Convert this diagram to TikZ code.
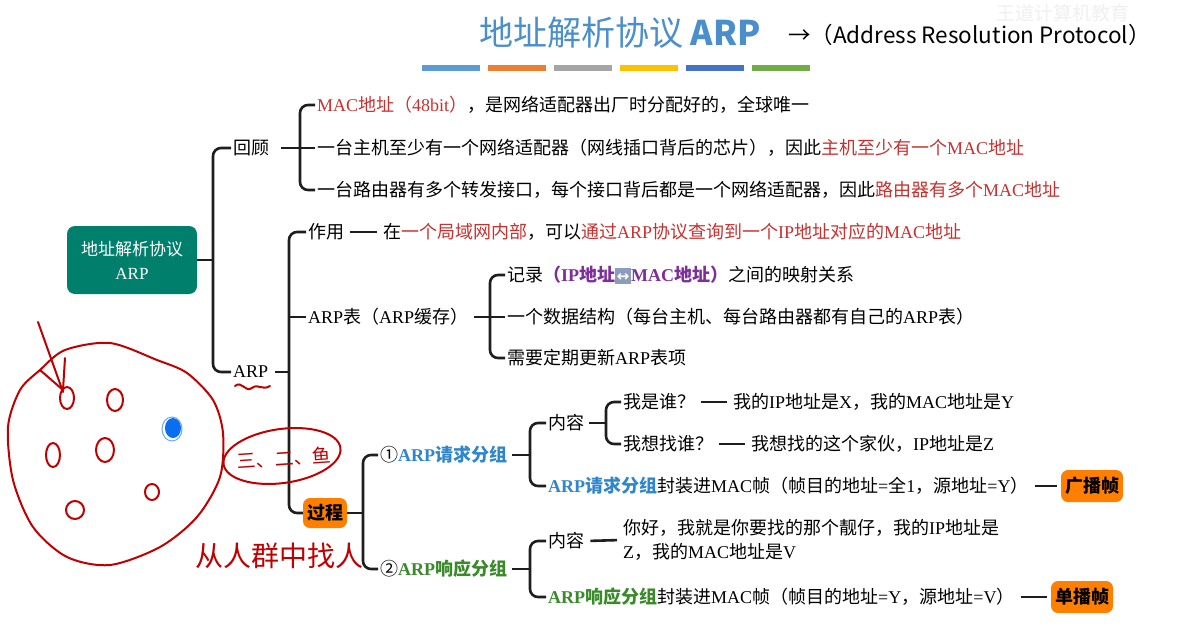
\documentclass[tikz,border=0pt]{standalone}
\usepackage{fontspec}
\setmainfont{Liberation Serif}
\newfontfamily\cjkfont{Noto Sans CJK SC}
\newfontfamily\symfont{DejaVu Sans}
\newcommand\latinfam{\rmfamily}
% Latin letters in serif, CJK in sans:
\XeTeXinterchartokenstate=1
\newXeTeXintercharclass\cjkclass
\newcount\cjkidx
\newcommand\cjkrange[2]{\cjkidx=#1\relax
  \loop\XeTeXcharclass\cjkidx=\cjkclass\relax
  \ifnum\cjkidx<#2\relax\advance\cjkidx by 1\relax\repeat}
\cjkrange{"4E00}{"9FFF}
\cjkrange{"3000}{"303F}
\cjkrange{"FF00}{"FFEF}
\cjkrange{"2460}{"24FF}
\XeTeXinterchartoks 0 \cjkclass = {\cjkfont}
\XeTeXinterchartoks 4095 \cjkclass = {\cjkfont}
\XeTeXinterchartoks \cjkclass 0 = {\latinfam}
\XeTeXinterchartoks 4095 0 = {\latinfam}

\definecolor{titleblue}{HTML}{4A8FCB}
\definecolor{mred}{HTML}{C8312F}
\definecolor{reqblue}{HTML}{2F86CC}
\definecolor{rspgreen}{HTML}{3A8A2A}
\definecolor{mpurple}{HTML}{7E2E9B}
\definecolor{rootteal}{HTML}{007F6D}
\definecolor{boxorange}{HTML}{FF8000}
\definecolor{handred}{HTML}{C00000}
\definecolor{handblue}{HTML}{0A6EF0}
\definecolor{iconblue}{HTML}{8C9DBB}
\definecolor{lineblack}{HTML}{1E1E1E}
\definecolor{barA}{HTML}{5B9BD5}
\definecolor{barB}{HTML}{ED7D31}
\definecolor{barC}{HTML}{A5A5A5}
\definecolor{barD}{HTML}{FFC000}
\definecolor{barE}{HTML}{4472C4}
\definecolor{barF}{HTML}{70AD47}

\newcommand\swapicon{{\XeTeXinterchartokenstate=0 \setlength\fboxsep{0.5pt}%
  \colorbox{iconblue}{\rule[-2pt]{0pt}{15pt}\makebox[15pt]{\color{white}\symfont\bfseries\fontsize{15}{15}\selectfont\char"2194}}}}

\begin{document}
\begin{tikzpicture}[x=1pt,y=-1pt,
  every node/.style={inner sep=2pt, font=\cjkfont\fontsize{18}{22}\selectfont},
  txt/.style={anchor=west},
  br/.style={draw=lineblack, line width=2.6pt, rounded corners=8pt},
  lk/.style={draw=lineblack, line width=2.6pt, shorten <=4pt, shorten >=4pt},
  orangebox/.style={fill=boxorange, rounded corners=7pt, inner xsep=4pt, minimum height=32pt,
    font=\cjkfont\bfseries\fontsize{18}{22}\selectfont},
  hand/.style={draw=handred, line width=2pt, line cap=round, line join=round}]
\fill[white] (0,0) rectangle (1183,640);
\useasboundingbox (0,0) rectangle (1183,640);
 % title:
\node[text=titleblue, font=\cjkfont\let\latinfam\cjkfont\fontsize{34}{36}\selectfont] (title) at (620,33) {地址解析协议 \textbf{ARP}};
\node[txt, font=\cjkfont\let\latinfam\cjkfont\fontsize{22.5}{24}\selectfont] (full) at (786,35) {→（Address Resolution Protocol）};
\node[text=black!6, font=\cjkfont\fontsize{19}{20}\selectfont] (mark) at (1063,13) {王道计算机教育};
\foreach \c [count=\i] in {barA,barB,barC,barD,barE,barF}
  \fill[\c] ({422+66*(\i-1)},65) rectangle ++(58,6);
 % root:
\node[fill=rootteal, rounded corners=8pt, text=white, minimum width=130pt, minimum height=68pt,
  align=center, font=\cjkfont\fontsize{17}{24}\selectfont] (root) at (132,260) {地址解析协议\\ARP};
 % review:
\node[txt] (hg) at (231,148) {回顾};
\node[txt] (hg1) at (315,105) {\textcolor{mred}{MAC地址（48bit）}，是网络适配器出厂时分配好的，全球唯一};
\node[txt] (hg2) at (315,148) {一台主机至少有一个网络适配器（网线插口背后的芯片），因此\textcolor{mred}{主机至少有一个MAC地址}};
\node[txt] (hg3) at (315,190) {一台路由器有多个转发接口，每个接口背后都是一个网络适配器，因此\textcolor{mred}{路由器有多个MAC地址}};
 % ARP:
\node[txt] (arp) at (231,372) {ARP};
\node[txt] (zy) at (306,232) {作用};
\node[txt] (zyt) at (381,232) {在\textcolor{mred}{一个局域网内部}，可以\textcolor{mred}{通过ARP协议查询到一个IP地址对应的MAC地址}};
\node[txt] (tab) at (306,317) {ARP表（ARP缓存）};
\node[txt] (tab1) at (505,275) {记录\textcolor{mpurple}{\textbf{（IP地址\swapicon MAC地址）}}之间的映射关系};
\node[txt] (tab2) at (505,317) {一个数据结构（每台主机、每台路由器都有自己的ARP表）};
\node[txt] (tab3) at (505,358) {需要定期更新ARP表项};
\node[orangebox, minimum height=30pt] (gc) at (325,513) {过程};
 % request:
\node[txt] (req) at (378,455) {①\textcolor{reqblue}{\textbf{ARP请求分组}}};
\node[txt] (reqc) at (546,423) {内容};
\node[txt] (who) at (621,402) {我是谁？};
\node[txt] (whot) at (731,402) {我的IP地址是X，我的MAC地址是Y};
\node[txt] (find) at (621,444) {我想找谁？};
\node[txt] (findt) at (749,444) {我想找的这个家伙，IP地址是Z};
\node[txt] (reqf) at (546,486) {\textcolor{reqblue}{\textbf{ARP请求分组}}封装进MAC帧（帧目的地址=全1，源地址=Y）};
\node[orangebox] (bc) at (1092,486) {广播帧};
 % response:
\node[txt] (rsp) at (378,569) {②\textcolor{rspgreen}{\textbf{ARP响应分组}}};
\node[txt] (rspc) at (546,541) {内容};
\node[txt, align=left, font=\cjkfont\fontsize{18}{24}\selectfont] (hi) at (621,540) {你好，我就是你要找的那个靓仔，我的IP地址是\\Z，我的MAC地址是V};
\node[txt] (rspf) at (546,597) {\textcolor{rspgreen}{\textbf{ARP响应分组}}封装进MAC帧（帧目的地址=Y，源地址=V）};
\node[orangebox] (uc) at (1082,597) {单播帧};
 % brackets:
\draw[br] (root.east) -- (213,260) coordinate (j0);
\draw[br] (hg.west) -| (j0) |- (arp.west);
\draw[br] ([xshift=10pt]hg.east) -- (300,148) coordinate (j1);
\draw[br] (hg1.west) -| (j1) |- (hg3.west);
\draw[br] (j1) -- (hg2.west);
\draw[br] ([xshift=5pt]arp.east) -- (289,372) coordinate (j2);
\draw[br] (zy.west) -| (j2) |- (gc.west);
\draw[br] (j2 |- tab.west) -- (tab.west);
\draw[lk] (zy.east) -- (zyt.west);
\draw[br] ([xshift=4pt]tab.east) -- (490,317) coordinate (j3);
\draw[br] (tab1.west) -| (j3) |- (tab3.west);
\draw[br] (j3) -- (tab2.west);
\draw[br] (gc.east) -- (363,513) coordinate (j4);
\draw[br] (req.west) -| (j4) |- (rsp.west);
\draw[br] ([xshift=3pt]req.east) -- (530,455) coordinate (j5);
\draw[br] (reqc.west) -| (j5) |- (reqf.west);
\draw[br] ([xshift=3pt]reqc.east) -- (606,423) coordinate (j6);
\draw[br] (who.west) -| (j6) |- (find.west);
\draw[lk] (who.east) -- (whot.west);
\draw[lk] (find.east) -- (findt.west);
\draw[lk] (reqf.east) -- (bc.west);
\draw[br] ([xshift=3pt]rsp.east) -- (530,569) coordinate (j7);
\draw[br] (rspc.west) -| (j7) |- (rspf.west);
\draw[lk] (rspc.east) -- (hi.west);
\draw[lk] (rspf.east) -- (uc.west);
 % hand sketch: crowd
\draw[hand] plot[smooth cycle] coordinates {(65,350) (110,343) (157,360) (187,373) (213,400) (223,433)
  (220,477) (197,517) (160,547) (110,565) (67,557) (33,527) (13,480) (8,427) (20,390) (40,370)};
\draw[hand] (38,322) -- (63,392);
\draw[hand] (40,370) -- (63,390) -- (65,358);
\draw[hand] (67,398) ellipse [x radius=7pt, y radius=11pt];
\draw[hand] (115,400) ellipse [x radius=8pt, y radius=11pt];
\draw[hand] (53,455) ellipse [x radius=7pt, y radius=12pt];
\draw[hand] (105,450) ellipse [x radius=9pt, y radius=12pt];
\draw[hand] (152,492) ellipse [x radius=7pt, y radius=8pt];
\draw[hand] (75,510) ellipse [x radius=9pt, y radius=9pt];
\fill[handblue] (173,428) ellipse [x radius=8pt, y radius=10pt];
\draw[handblue!60, line width=1pt] (172,429) ellipse [x radius=10pt, y radius=12pt];
 % hand sketch: countdown and words
\draw[hand, rotate around={8:(282,456)}] (282,456) ellipse [x radius=59pt, y radius=27pt];
\node[text=handred, font=\cjkfont\fontsize{19}{20}\selectfont, rotate=4] (cnt) at (284,458) {三、二、鱼};
\node[text=handred, font=\cjkfont\fontsize{28}{28}\selectfont] (crowd) at (279,556) {从人群中找人};
\draw[hand] (235,386) .. controls (242,380) and (245,393) .. (252,388) .. controls (258,383) and (262,391) .. (270,386);
\end{tikzpicture}
\end{document}
